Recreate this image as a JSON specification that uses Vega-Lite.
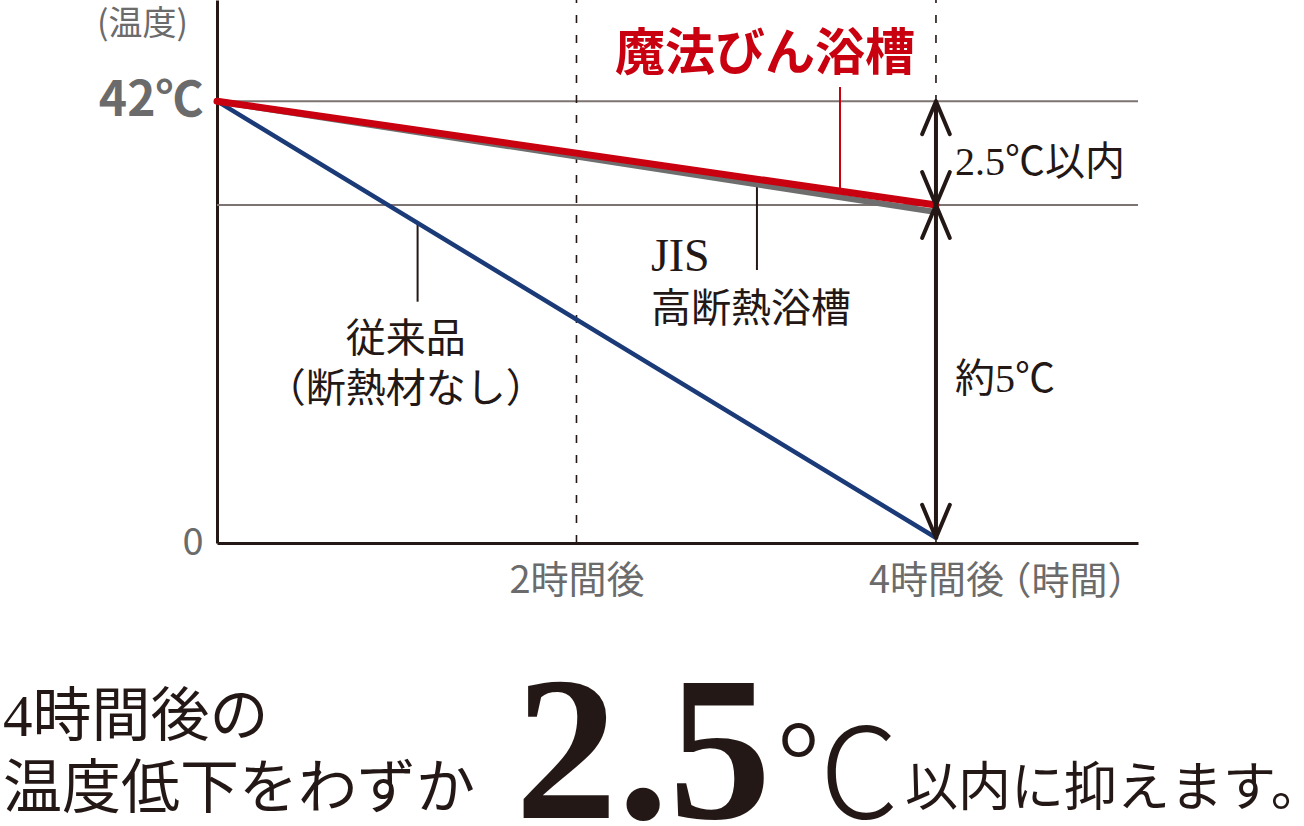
{
  "$schema": "https://vega.github.io/schema/vega-lite/v6.json",
  "width": 921,
  "height": 543,
  "autosize": "none",
  "padding": {"left": 217, "top": 0, "right": 166, "bottom": 283},
  "background": "white",
  "config": {"view": {"stroke": null}, "font": "Noto Sans CJK JP"},
  "encoding": {
    "x": {
      "field": "t", "type": "quantitative",
      "scale": {"domain": [0, 5.124], "nice": false, "zero": false},
      "axis": {
        "values": [2, 4],
        "labelExpr": "datum.value + '時間後'",
        "grid": false, "ticks": false,
        "domainColor": "#231815", "domainWidth": 3,
        "labelFont": "Noto Sans CJK JP", "labelFontSize": 38, "labelColor": "#6b6b6b",
        "labelPadding": 38, "labelBaseline": "middle",
        "title": "（時間）", "titleFont": "Noto Sans CJK JP", "titleFontSize": 38,
        "titleFontWeight": "normal", "titleColor": "#6b6b6b",
        "titleX": 852, "titleY": 39, "titleAlign": "center", "titleBaseline": "middle"
      }
    },
    "y": {
      "field": "v", "type": "quantitative",
      "scale": {"domain": [0, 51.62], "nice": false, "zero": false},
      "axis": {
        "values": [0, 42],
        "labelExpr": "datum.value == 42 ? '42℃' : '0'",
        "grid": false, "ticks": false,
        "domainColor": "#231815", "domainWidth": 3,
        "labelFont": "Noto Sans CJK JP",
        "labelFontSize": {"condition": {"test": "datum.value == 42", "value": 48}, "value": 38},
        "labelFontWeight": {"condition": {"test": "datum.value == 42", "value": "bold"}, "value": "normal"},
        "labelColor": "#6b6b6b", "labelPadding": 14,
        "title": "(温度)", "titleFont": "Noto Sans CJK JP", "titleFontSize": 34,
        "titleFontWeight": "normal", "titleColor": "#6b6b6b", "titleAngle": 0,
        "titleX": -75, "titleY": 24, "titleAlign": "center", "titleBaseline": "middle"
      }
    }
  },
  "layer": [
    {
      "data": {"values": [{"t": 0, "t2": 5.124, "v": 42}, {"t": 0, "t2": 5.124, "v": 32.13}]},
      "mark": {"type": "rule", "color": "#7d7370", "strokeWidth": 2},
      "encoding": {"x2": {"field": "t2"}}
    },
    {
      "data": {"values": [{"t": 2, "v": 0, "v2": 51.62}, {"t": 4, "v": 0, "v2": 51.62}]},
      "mark": {"type": "rule", "color": "#231815", "strokeWidth": 1.6, "strokeDash": [8, 12]},
      "encoding": {"y2": {"field": "v2"}}
    },
    {
      "data": {"values": [
        {"t": 1.116, "v": 30.42, "v2": 22.94, "c": "k"},
        {"t": 3.004, "v": 34.08, "v2": 25.95, "c": "k"},
        {"t": 3.466, "v": 43.35, "v2": 33.45, "c": "r"}
      ]},
      "mark": {"type": "rule", "strokeWidth": 2},
      "encoding": {
        "y2": {"field": "v2"},
        "color": {"field": "c", "type": "nominal", "scale": {"domain": ["k", "r"], "range": ["#231815", "#c8000f"]}, "legend": null}
      }
    },
    {
      "data": {"values": [{"t": 0, "v": 42}, {"t": 4, "v": 0.5}]},
      "mark": {"type": "line", "color": "#1b3a78", "strokeWidth": 4.5, "strokeCap": "round"},
      "encoding": {}
    },
    {
      "data": {"values": [{"t": 0, "v": 42}, {"t": 4, "v": 31.46}]},
      "mark": {"type": "line", "color": "#6e6e6e", "strokeWidth": 6, "strokeCap": "round"},
      "encoding": {}
    },
    {
      "data": {"values": [{"t": 0, "v": 42}, {"t": 4, "v": 32.13}]},
      "mark": {"type": "line", "color": "#c8000f", "strokeWidth": 7, "strokeCap": "round"},
      "encoding": {}
    },
    {
      "data": {"values": [{"t": 4, "v": 42, "v2": 0.5}]},
      "mark": {"type": "rule", "color": "#231815", "strokeWidth": 4},
      "encoding": {"y2": {"field": "v2"}}
    },
    {
      "data": {"values": [
        {"t": 4, "v": 42, "dir": "up"},
        {"t": 4, "v": 32.13, "dir": "down"},
        {"t": 4, "v": 32.13, "dir": "up"},
        {"t": 4, "v": 0.5, "dir": "down"}
      ]},
      "mark": {"type": "point", "filled": false, "stroke": "#231815", "strokeWidth": 4, "size": 4356, "opacity": 1, "strokeCap": "round", "strokeJoin": "round"},
      "encoding": {
        "shape": {"field": "dir", "type": "nominal", "scale": {"domain": ["up", "down"], "range": ["M-0.42,1L0,0L0.42,1", "M-0.42,-1L0,0L0.42,-1"]}, "legend": null}
      }
    },
    {
      "data": {"values": [{"t": 3.049, "v": 46.39, "label": "魔法びん浴槽"}]},
      "mark": {"type": "text", "font": "Noto Sans CJK JP", "fontWeight": "bold", "fontSize": 50, "color": "#c8000f", "align": "center", "baseline": "middle"},
      "encoding": {"text": {"field": "label"}}
    },
    {
      "data": {"values": [
        {"t": 4.106, "v": 36.12, "label": "2.5℃以内"},
        {"t": 4.106, "v": 15.49, "label": "約5℃"},
        {"t": 2.414, "v": 22.15, "label": "高断熱浴槽"}
      ]},
      "mark": {"type": "text", "font": "Liberation Serif, Noto Sans CJK JP", "fontSize": 40, "color": "#231815", "align": "left", "baseline": "middle"},
      "encoding": {"text": {"field": "label"}}
    },
    {
      "data": {"values": [{"t": 2.414, "v": 27.19, "label": "JIS"}]},
      "mark": {"type": "text", "font": "Liberation Serif", "fontSize": 46, "color": "#231815", "align": "left", "baseline": "middle"},
      "encoding": {"text": {"field": "label"}}
    },
    {
      "data": {"values": [
        {"t": 1.05, "v": 19.3, "label": "従来品"},
        {"t": 1.05, "v": 14.54, "label": "（断熱材なし）"}
      ]},
      "mark": {"type": "text", "font": "Liberation Serif, Noto Sans CJK JP", "fontSize": 40, "color": "#231815", "align": "center", "baseline": "middle"},
      "encoding": {"text": {"field": "label"}}
    },
    {
      "data": {"values": [
        {"t": -1.19, "v": -16.63, "label": "4時間後の"},
        {"t": -1.19, "v": -23.48, "label": "温度低下をわずか"}
      ]},
      "mark": {"type": "text", "font": "Liberation Serif, Noto Sans CJK JP", "fontSize": 59, "color": "#231815", "align": "left", "baseline": "middle"},
      "encoding": {"text": {"field": "label"}}
    },
    {
      "data": {"values": [{"t": 1.658, "v": -26.14, "label": "2.5"}]},
      "mark": {"type": "text", "font": "Liberation Serif", "fontWeight": "bold", "fontSize": 205, "color": "#231815", "align": "left", "baseline": "alphabetic"},
      "encoding": {"text": {"field": "label"}}
    },
    {
      "data": {"values": [{"t": 3.104, "v": -26.14, "label": "℃"}]},
      "mark": {"type": "text", "font": "Noto Sans CJK JP", "fontWeight": 300, "fontSize": 125, "color": "#231815", "align": "left", "baseline": "alphabetic"},
      "encoding": {"text": {"field": "label"}}
    },
    {
      "data": {"values": [{"t": 3.828, "v": -23.48, "label": "以内に抑えます。"}]},
      "mark": {"type": "text", "font": "Liberation Serif, Noto Sans CJK JP", "fontSize": 53, "color": "#231815", "align": "left", "baseline": "middle"},
      "encoding": {"text": {"field": "label"}}
    }
  ]
}
